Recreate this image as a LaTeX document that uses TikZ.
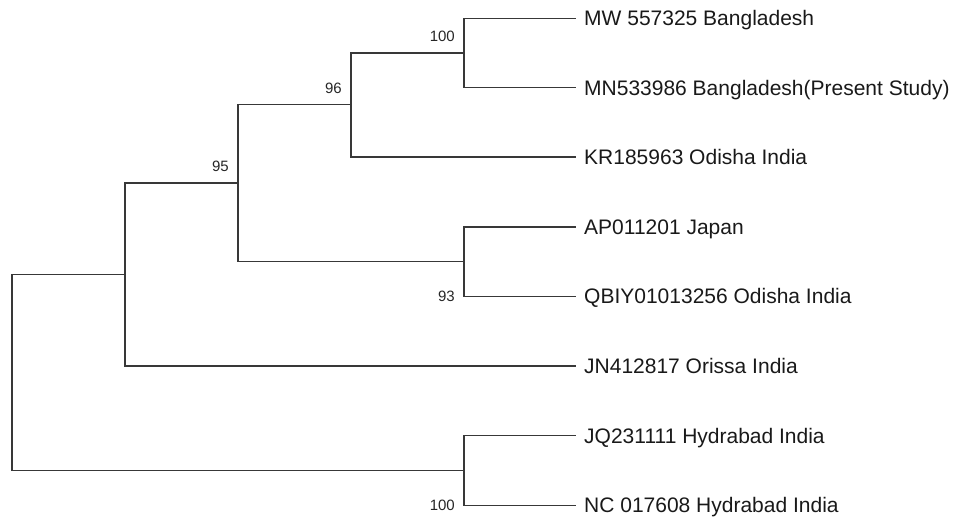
\documentclass[tikz,border=0pt]{standalone}
\usepackage{fontspec}
\setmainfont{Liberation Sans}
\usetikzlibrary{positioning,calc}

\begin{document}
\begin{tikzpicture}[x=1pt, y=-1pt,
    branch/.style={draw=black!78, line width=1.2pt},
    taxon/.style={font=\fontsize{21}{24}\selectfont, text=black!90,
                  inner sep=0pt, text height=15pt, text depth=0pt},
    boot/.style={font=\fontsize{15}{16}\selectfont, text=black!85,
                 inner sep=0pt, text height=10.7pt, text depth=0pt}
  ]
    \useasboundingbox (0,0) rectangle (953,519);

    % --- Leaf tips ---
    \coordinate (t1) at (576, 18.3);
    \coordinate (t2) at (576, 87.7);
    \coordinate (t3) at (576,157.0);
    \coordinate (t4) at (576,227.0);
    \coordinate (t5) at (576,296.3);
    \coordinate (t6) at (576,366.0);
    \coordinate (t7) at (576,435.7);
    \coordinate (t8) at (576,505.3);

    % --- Taxon labels ---
    \node[taxon, right=8pt of t1] (l1) {MW 557325 Bangladesh};
    \node[taxon, right=8pt of t2] (l2) {MN533986 Bangladesh(Present Study)};
    \node[taxon, right=8pt of t3] (l3) {KR185963 Odisha India};
    \node[taxon, right=8pt of t4] (l4) {AP011201 Japan};
    \node[taxon, right=8pt of t5] (l5) {QBIY01013256 Odisha India};
    \node[taxon, right=8pt of t6] (l6) {JN412817 Orissa India};
    \node[taxon, right=8pt of t7] (l7) {JQ231111 Hydrabad India};
    \node[taxon, right=8pt of t8] (l8) {NC 017608 Hydrabad India};

    % --- Internal nodes ---
    \coordinate (n100a) at (464, 53.0);
    \coordinate (n96)   at (351,104.7);
    \coordinate (n95)   at (238,183.0);
    \coordinate (n93)   at (464,261.6);
    \coordinate (nJN)   at (125,274.5);
    \coordinate (n100b) at (464,470.5);
    \coordinate (root)  at ( 12,372.5);

    % --- Branches ---
    \draw[branch] (n100a) |- (t1) (n100a) |- (t2);
    \draw[branch] (n96) |- (n100a) (n96) |- (t3);
    \draw[branch] (n93) |- (t4) (n93) |- (t5);
    \draw[branch] (n95) |- (n96) (n95) |- (n93);
    \draw[branch] (nJN) |- (n95) (nJN) |- (t6);
    \draw[branch] (n100b) |- (t7) (n100b) |- (t8);
    \draw[branch] (root) |- (nJN) (root) |- (n100b);

    % --- Bootstrap values ---
    \node[boot, above left=11.5pt and 9pt of n100a] (b100a) {100};
    \node[boot, above left=11.5pt and 9pt of n96] (b96) {96};
    \node[boot, above left=11.5pt and 9pt of n95] (b95) {95};
    \node[boot, anchor=east] (b93) at ($(n93 |- t5)+(-9,0)$) {93};
    \node[boot, anchor=east] (b100b) at ($(n100b |- t8)+(-9,0)$) {100};
\end{tikzpicture}
\end{document}
